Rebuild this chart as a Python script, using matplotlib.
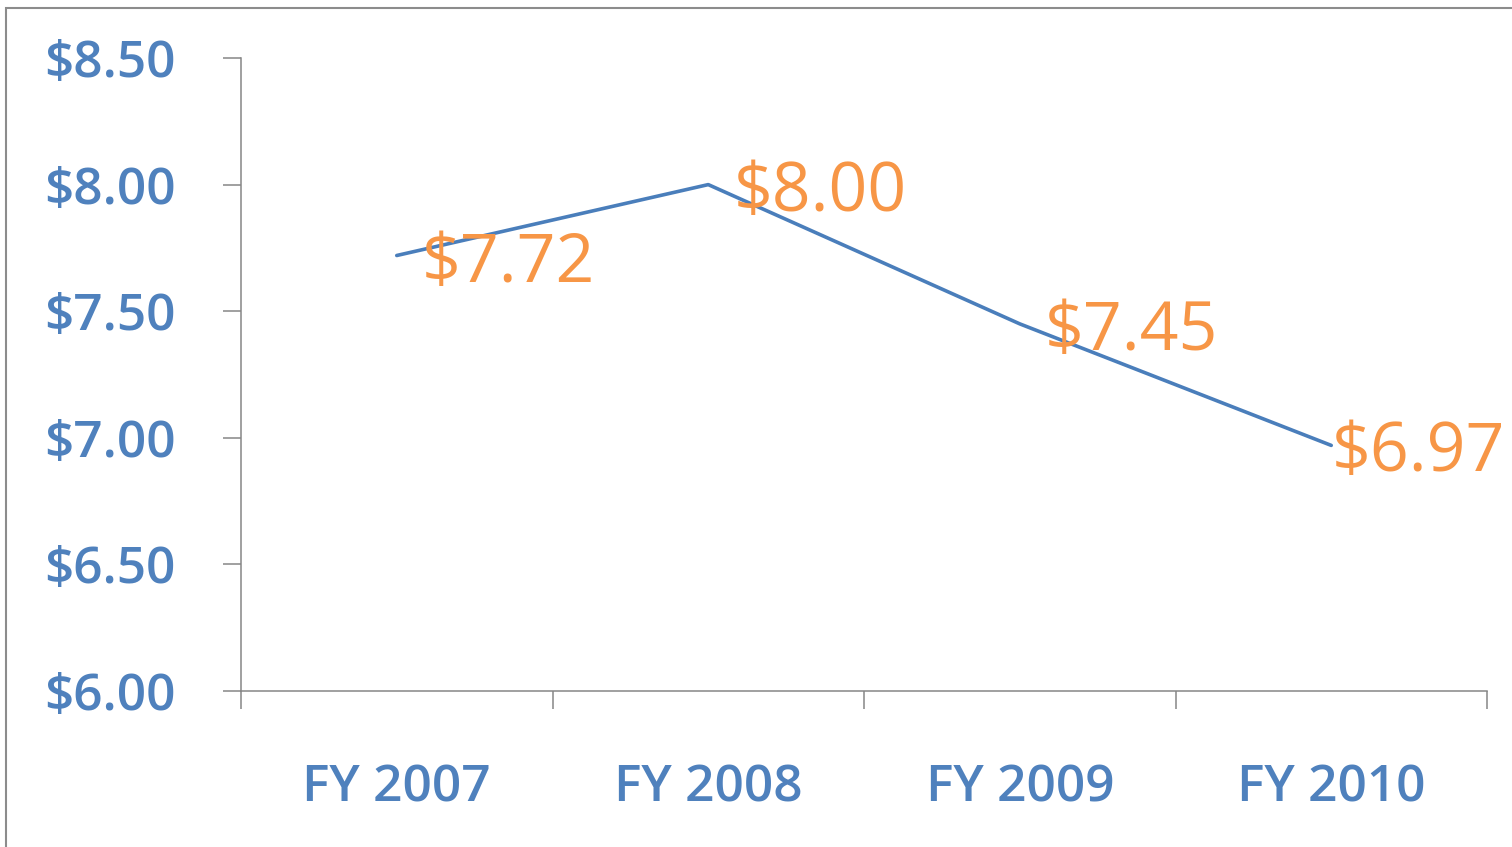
import matplotlib.pyplot as plt
from matplotlib.patches import Rectangle
from matplotlib.ticker import FixedLocator

years = ["FY 2007", "FY 2008", "FY 2009", "FY 2010"]
values = [7.72, 8.00, 7.45, 6.97]
yticks = [6.0, 6.5, 7.0, 7.5, 8.0, 8.5]

blue = "#4F81BD"
line_blue = "#4A7EBB"
orange = "#F79646"
grey = "#868686"

plt.rcParams["font.family"] = ["Open Sans", "DejaVu Sans"]

fig = plt.figure(figsize=(15.12, 8.47), dpi=100)
ax = fig.add_axes([241 / 1512, 1 - 691 / 847, 1246 / 1512, 633 / 847])

x = list(range(len(years)))
ax.plot(x, values, color=line_blue, lw=2.6, solid_capstyle="round")

# last label is pulled left so it fits inside the frame
label_dx = [18, 18, 18, 0]
for xi, v, dx in zip(x, values, label_dx):
    ax.annotate(f"${v:.2f}", (xi, v), xytext=(dx, -6), textcoords="offset points",
                ha="left", va="center", fontsize=49, color=orange,
                annotation_clip=False)

ax.set_xlim(-0.5, len(years) - 0.5)
ax.set_ylim(6.0, 8.5)

ax.set_yticks(yticks)
ax.set_yticklabels([f"${t:.2f}" for t in yticks])
ax.tick_params(axis="y", length=13, width=1.1, color=grey, pad=34,
               labelsize=37, labelcolor=blue)
for lab in ax.get_yticklabels():
    lab.set_fontweight("semibold")

ax.xaxis.set_major_locator(FixedLocator([i - 0.5 for i in range(len(years) + 1)]))
ax.xaxis.set_minor_locator(FixedLocator(x))
ax.set_xticklabels([], minor=False)
ax.set_xticklabels(years, minor=True)
ax.tick_params(axis="x", which="major", length=13, width=1.1, color=grey)
ax.tick_params(axis="x", which="minor", length=0, pad=52,
               labelsize=37, labelcolor=blue)
for lab in ax.get_xticklabels(minor=True):
    lab.set_fontweight("semibold")

for s in ["top", "right"]:
    ax.spines[s].set_visible(False)
for s in ["left", "bottom"]:
    ax.spines[s].set_color(grey)
    ax.spines[s].set_linewidth(1.1)

fig.patches.append(Rectangle((6 / 1512, -0.1), 1.2, 1.1 - 8 / 847,
                             transform=fig.transFigure, fill=False,
                             edgecolor="#8C8C8C", lw=1.5))

fig.savefig("out.png", dpi=100)
